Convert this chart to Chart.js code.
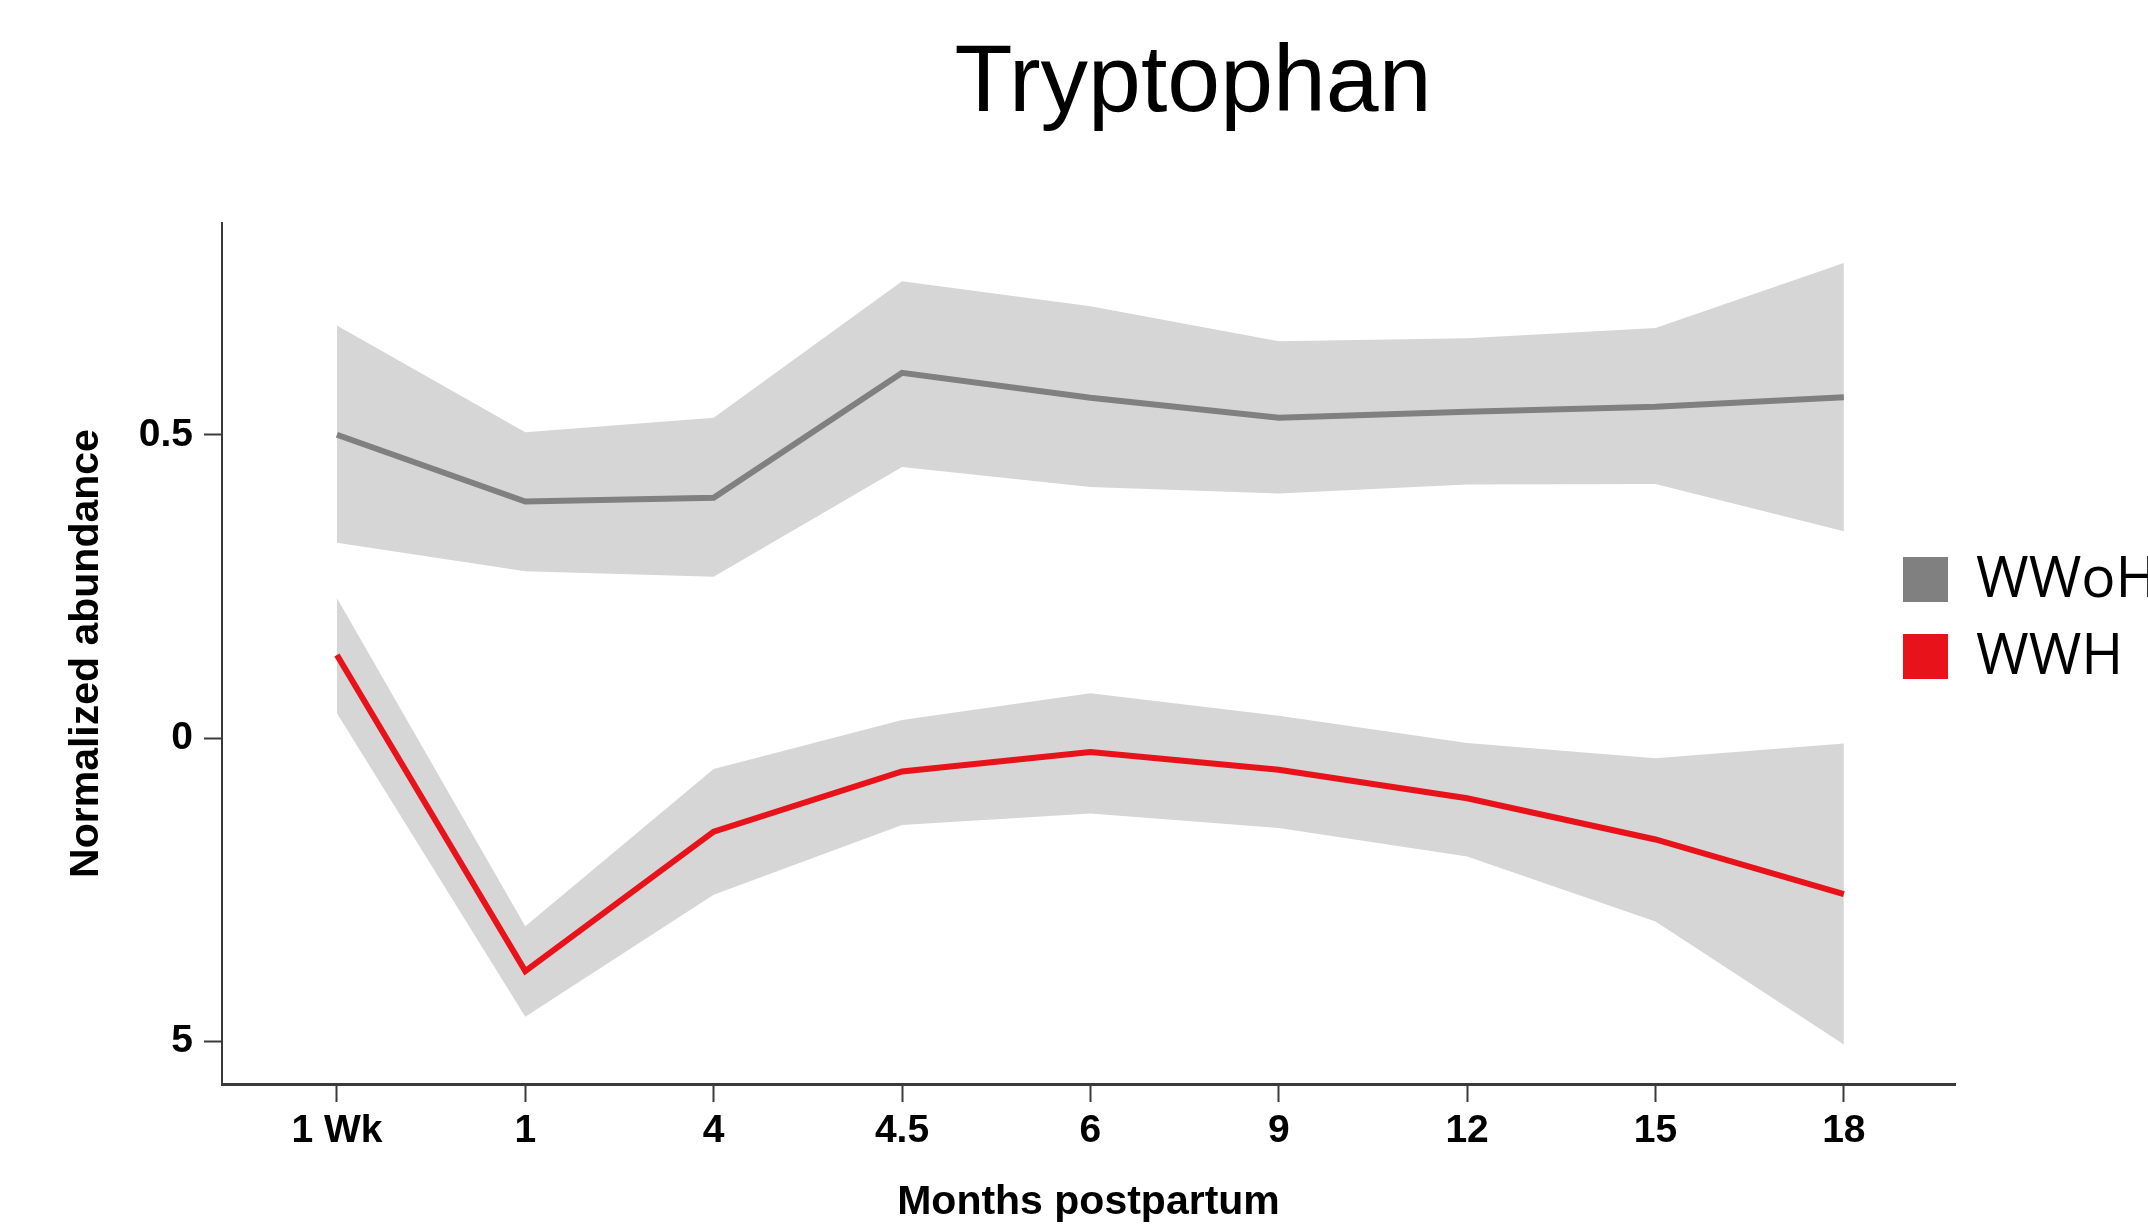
<!DOCTYPE html>
<html>
<head>
<meta charset="utf-8">
<title>Tryptophan</title>
<script src="https://cdn.jsdelivr.net/npm/chart.js@4/dist/chart.umd.min.js"></script>
<style>
  html, body { margin: 0; padding: 0; overflow: hidden; background: #ffffff; }
  #wrap { position: relative; width: 2386px; height: 1232px; }
  canvas { display: block; }
</style>
</head>
<body>
<div id="wrap"><canvas id="chart" width="2386" height="1232"></canvas></div>
<script>
// ---- Data ----
const categories = ['1 Wk', '1', '4', '4.5', '6', '9', '12', '15', '18'];

const wwohMean  = [0.500, 0.390, 0.396, 0.602, 0.561, 0.528, 0.538, 0.546, 0.562];
const wwohUpper = [0.680, 0.504, 0.528, 0.753, 0.712, 0.654, 0.659, 0.676, 0.783];
const wwohLower = [0.322, 0.275, 0.266, 0.447, 0.414, 0.403, 0.418, 0.419, 0.341];

const wwhMean  = [0.137, -0.384, -0.154, -0.055, -0.023, -0.052, -0.099, -0.167, -0.257];
const wwhUpper = [0.231, -0.310, -0.051, 0.030, 0.074, 0.037, -0.008, -0.033, -0.009];
const wwhLower = [0.041, -0.459, -0.258, -0.143, -0.124, -0.148, -0.195, -0.302, -0.505];

const yTickValues = [-0.5, 0, 0.5];
const yTickLabels = ['5', '0', '0.5'];

const seriesNames = ['WWoH', 'WWH'];

// ---- Helpers ----
const toPoints = arr => arr.map((v, i) => ({ x: i, y: v }));

const GRAY = '#808080';
const RED = '#e8121a';
const BAND = '#d6d6d6';
const AXIS = '#3a3a3a';

const bandStyle = {
  borderColor: 'rgba(0,0,0,0)',
  borderWidth: 0,
  pointRadius: 0,
  backgroundColor: BAND,
};

// Custom legend drawn with the dataset colours and labels
const squareLegend = {
  id: 'squareLegend',
  afterDraw(chart, args, opts) {
    const ctx = chart.ctx;
    const area = chart.chartArea;
    ctx.save();
    opts.items.forEach((idx, k) => {
      const ds = chart.data.datasets[idx];
      const x = area.right + opts.offsetX;
      const top = opts.firstTop + k * opts.step;
      ctx.fillStyle = ds.borderColor;
      ctx.fillRect(x, top, opts.box, opts.box);
      ctx.fillStyle = '#000';
      ctx.font = opts.font;
      ctx.textBaseline = 'alphabetic';
      ctx.textAlign = 'left';
      ctx.fillText(ds.label, x + opts.box + opts.gap, top + opts.baselineOffset);
    });
    ctx.restore();
  }
};

const chart = new Chart(document.getElementById('chart'), {
  type: 'line',
  data: {
    datasets: [
      { label: seriesNames[0], data: toPoints(wwohMean), borderColor: GRAY, borderWidth: 6, pointRadius: 0, fill: false },
      { label: seriesNames[1], data: toPoints(wwhMean), borderColor: RED, borderWidth: 6, pointRadius: 0, fill: false },
      Object.assign({ label: 'WWoH upper', data: toPoints(wwohUpper), fill: '+1' }, bandStyle),
      Object.assign({ label: 'WWoH lower', data: toPoints(wwohLower), fill: false }, bandStyle),
      Object.assign({ label: 'WWH upper', data: toPoints(wwhUpper), fill: '+1' }, bandStyle),
      Object.assign({ label: 'WWH lower', data: toPoints(wwhLower), fill: false }, bandStyle),
    ]
  },
  options: {
    responsive: false,
    animation: false,
    events: [],
    layout: { padding: 0 },
    elements: { line: { tension: 0 } },
    plugins: {
      legend: { display: false },
      tooltip: { enabled: false },
      title: {
        display: true,
        text: 'Tryptophan',
        color: '#000',
        font: { family: '"Liberation Sans", Arial, sans-serif', size: 95, weight: 'normal', lineHeight: 1.2 },
        padding: { top: 28, bottom: 81 }
      },
      squareLegend: {
        items: [0, 1],
        offsetX: -52,
        firstTop: 557,
        step: 77,
        box: 45,
        gap: 28,
        baselineOffset: 40,
        font: '57px "Open Sans", "Noto Sans", sans-serif'
      }
    },
    scales: {
      x: {
        type: 'linear',
        min: -0.61,
        max: 8.59,
        afterBuildTicks: scale => { scale.ticks = categories.map((c, i) => ({ value: i })); },
        afterFit: scale => { scale.height = 148; },
        ticks: {
          color: '#000',
          padding: 6,
          maxRotation: 0,
          autoSkip: false,
          font: { family: '"Liberation Sans", Arial, sans-serif', size: 39, weight: 'bold', lineHeight: 1.2 },
          callback: (value, index) => categories[index]
        },
        grid: { drawOnChartArea: false, drawTicks: true, tickLength: 18, tickColor: AXIS, tickWidth: 2 },
        border: { display: true, color: AXIS, width: 3 },
        title: {
          display: true,
          text: 'Months postpartum',
          color: '#000',
          font: { family: '"Liberation Sans", Arial, sans-serif', size: 41, weight: 'bold', lineHeight: 1.2 },
          padding: { top: 0, bottom: 5 }
        }
      },
      y: {
        type: 'linear',
        position: 'left',
        min: -0.57,
        max: 0.849,
        afterBuildTicks: scale => { scale.ticks = yTickValues.map(v => ({ value: v })); },
        afterFit: scale => { scale.width = 222; },
        ticks: {
          color: '#000',
          padding: 11,
          font: { family: '"Liberation Sans", Arial, sans-serif', size: 39, weight: 'bold', lineHeight: 1.2 },
          callback: (value, index) => yTickLabels[index]
        },
        grid: { drawOnChartArea: false, drawTicks: true, tickLength: 18, tickColor: AXIS, tickWidth: 2 },
        border: { display: true, color: AXIS, width: 2 },
        title: {
          display: true,
          text: 'Normalized abundance',
          color: '#000',
          font: { family: '"Liberation Sans", Arial, sans-serif', size: 41, weight: 'bold', lineHeight: 1.2 },
          padding: { top: 62, bottom: 0 }
        }
      },
      // Empty right-hand axis that only reserves the space where the legend sits
      legendSpace: {
        type: 'linear',
        position: 'right',
        display: true,
        min: -0.57,
        max: 0.849,
        afterFit: scale => { scale.width = 431; },
        ticks: { display: false },
        grid: { display: false, drawTicks: false },
        border: { display: false },
        title: { display: false }
      }
    }
  },
  plugins: [squareLegend]
});
</script>
</body>
</html>
